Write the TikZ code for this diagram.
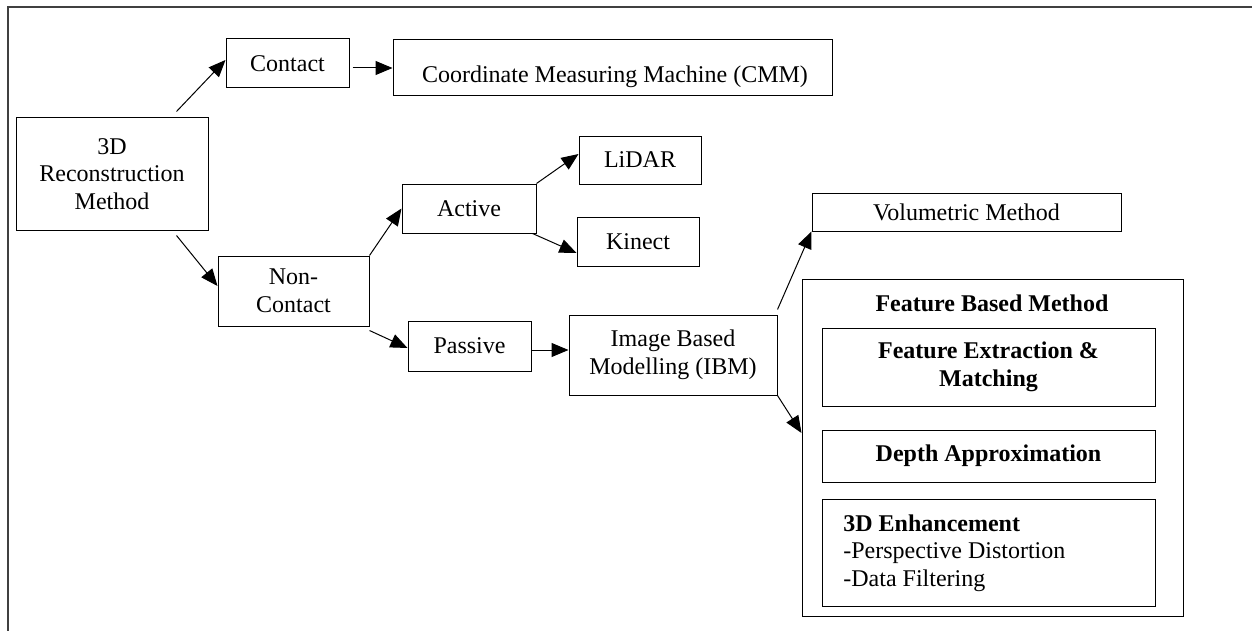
\documentclass[tikz,border=0pt]{standalone}
\usepackage{fontspec}
\setmainfont{Liberation Serif}
\usetikzlibrary{arrows.meta,calc}
\newcommand\boxfont{\fontsize{12}{13.75}\selectfont}
\tikzset{
  box/.style={draw, line width=0.5pt, inner sep=0pt, align=center, font=\boxfont},
  bbox/.style={box, font=\boxfont\bfseries},
  arr/.style={line width=0.5pt, -{Triangle[length=8.5pt,width=7pt]}},
  frame/.style={line width=1pt, draw=black!75}
}
\begin{document}
\begin{tikzpicture}[x=0.5pt,y=-0.5pt]
\useasboundingbox (0,0) rectangle (1252,631);
% page frame (open on the right and bottom)
\draw[frame] (1252,7.5) -- (8,7.5) -- (8,631);

% left part of the tree
\node[box, minimum width=96pt, minimum height=56pt] (root) at (112,174) {3D\\Reconstruction\\Method};
\node[box, minimum width=61.5pt, minimum height=24.5pt] (contact) at (287.5,63.5) {Contact};
\node[box, minimum width=219.5pt, minimum height=28pt] (cmm) at (612.5,68) {};
\node[font=\boxfont, inner sep=0pt] (cmmtext) at (615,77) {Coordinate Measuring Machine (CMM)};
\node[box, minimum width=75.5pt, minimum height=35pt] (noncontact) at (293.5,291) {Non-\\Contact};
\node[box, minimum width=67pt, minimum height=24.5pt] (active) at (469,208.5) {Active};
\node[box, minimum width=61pt, minimum height=24pt] (lidar) at (640,160) {LiDAR};
\node[box, minimum width=61pt, minimum height=24.5pt] (kinect) at (638,241.5) {Kinect};
\node[box, minimum width=61.5pt, minimum height=25pt] (passive) at (469.5,346) {Passive};
\node[box, minimum width=104pt, minimum height=40pt] (ibm) at (673,355) {Image Based\\Modelling (IBM)};
\node[box, minimum width=154.5pt, minimum height=19pt] (vol) at (966.5,212) {Volumetric Method};

% feature based method group
\node[box, minimum width=190.5pt, minimum height=168.5pt] (feat) at (992.5,447.5) {};
\node[font=\boxfont\bfseries, inner sep=0pt] (feattitle) at (992,303) {Feature Based Method};
\node[bbox, minimum width=166.5pt, minimum height=39pt] (fem) at (988.5,367) {Feature Extraction \&\\Matching};
\node[bbox, minimum width=166.5pt, minimum height=26pt] (depth) at (988.5,456) {Depth Approximation};
\node[box, minimum width=166.5pt, minimum height=53.5pt] (enh) at (988.5,552.5) {};
\node[font=\boxfont, align=left, anchor=west, inner sep=0pt] (enhtext) at (843,553)
  {\textbf{3D Enhancement}\\-Perspective Distortion\\-Data Filtering};

% connectors
\draw[arr] ($(root.north east)+(-32,-6)$) -- ($(contact.west)+(0,-3.5)$);
\draw[arr] ($(contact.east |- cmm.west)+(3,0)$) -- (cmm.west);
\draw[arr] ($(root.south east)+(-32,5)$) -- ($(noncontact.west)+(0,-5)$);
\draw[arr] (noncontact.north east) -- (active.west);
\draw[arr] (active.north east) -- ($(lidar.west)+(0,-6)$);
\draw[arr] ($(active.south east)+(-4,0)$) -- ($(kinect.west)+(0,11.5)$);
\draw[arr] ($(noncontact.south east)+(0,4)$) -- ($(passive.west)+(0,2)$);
\draw[arr] ($(passive.east)+(0,4)$) -- ($(ibm.west)+(0,-5)$);
\draw[arr] ($(ibm.north east)+(0,-5)$) -- (vol.south west);
\draw[arr] (ibm.south east) -- ($(feat.west)+(0,-14.5)$);
\end{tikzpicture}
\end{document}
